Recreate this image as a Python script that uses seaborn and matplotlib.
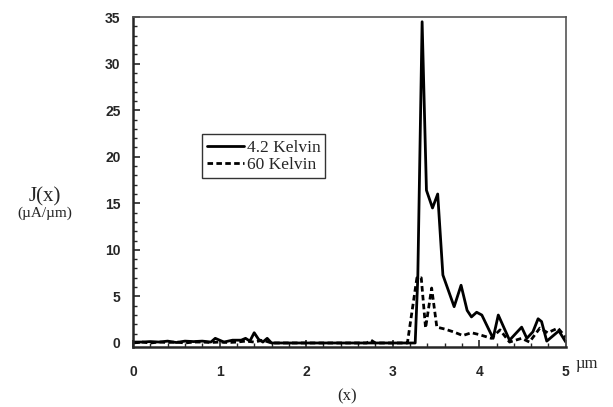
import seaborn as sns
import matplotlib.pyplot as plt
from matplotlib.ticker import MultipleLocator
import pandas as pd

# ======================================
# DATA
# ======================================

x_42 = [0.0, 0.1, 0.2, 0.3, 0.4, 0.5, 0.6, 0.7, 0.8, 0.9, 0.95, 1.0, 1.05,
        1.15, 1.25, 1.3, 1.35, 1.4, 1.45, 1.5, 1.55, 1.6, 2.0, 2.5, 3.0,
        3.26, 3.29, 3.34, 3.39, 3.46, 3.52, 3.58, 3.71, 3.79, 3.86, 3.91,
        3.97, 4.03, 4.16, 4.22, 4.35, 4.49, 4.55, 4.62, 4.68, 4.72, 4.78,
        4.92, 5.0]
j_42 = [0.1, 0.1, 0.15, 0.1, 0.2, 0.05, 0.2, 0.15, 0.2, 0.1, 0.5, 0.3, 0.1,
        0.3, 0.3, 0.5, 0.2, 1.1, 0.4, 0.1, 0.5, 0.0, 0.0, 0.0, 0.0,
        0.0, 7.0, 34.5, 16.4, 14.5, 16.0, 7.3, 3.9, 6.2, 3.5, 2.8,
        3.3, 3.0, 0.5, 3.0, 0.3, 1.7, 0.5, 1.2, 2.6, 2.3, 0.2,
        1.3, 0.1]

x_60 = [0.0, 0.1, 0.2, 0.3, 0.4, 0.5, 0.6, 0.7, 0.8, 0.9, 1.0, 1.1, 1.2,
        1.3, 1.4, 1.5, 1.6, 2.0, 2.7, 2.75, 2.8, 3.17, 3.28, 3.33, 3.38,
        3.45, 3.51, 3.6, 3.7, 3.81, 3.91, 4.0, 4.14, 4.24, 4.35, 4.49,
        4.58, 4.7, 4.79, 4.91, 5.0]
j_60 = [0.0, 0.1, 0.0, 0.1, 0.05, 0.1, 0.0, 0.1, 0.1, 0.05, 0.1, 0.05, 0.1,
        0.2, 0.1, 0.3, 0.0, 0.0, 0.0, 0.3, 0.0, 0.0, 7.0, 7.0, 1.6,
        5.9, 1.7, 1.5, 1.2, 0.8, 1.1, 0.9, 0.5, 1.4, 0.1, 0.5,
        0.1, 1.6, 1.1, 1.6, 0.6]

labels = ["4.2 Kelvin", "60 Kelvin"]

df = pd.concat([
    pd.DataFrame({"x": x_42, "J": j_42, "T": labels[0]}),
    pd.DataFrame({"x": x_60, "J": j_60, "T": labels[1]}),
])

# ======================================
# PLOT
# ======================================

sns.set_style("ticks")
plt.rcParams["font.family"] = ["Liberation Sans", "DejaVu Sans"]

fig = plt.figure(figsize=(6.13, 4.07), dpi=100)
ax = fig.add_axes([0.217, 0.147, 0.706, 0.811])

sns.lineplot(
    data=df, x="x", y="J", hue="T", style="T",
    palette=["black", "black"],
    dashes={labels[0]: "", labels[1]: (2.0, 1.2)},
    linewidth=2.0, sort=False, estimator=None, ax=ax
)

ax.set_xlim(0, 5)
ax.set_ylim(-0.45, 35)
ax.xaxis.set_major_locator(MultipleLocator(1))
ax.xaxis.set_minor_locator(MultipleLocator(0.2))
ax.yaxis.set_major_locator(MultipleLocator(5))
ax.yaxis.set_minor_locator(MultipleLocator(1))
ax.tick_params(which="both", direction="in", top=False, right=False)
ax.tick_params(which="major", length=5, width=1.2)
ax.tick_params(which="minor", length=3, width=1.0)
ax.tick_params(axis="x", pad=13)
ax.tick_params(axis="y", pad=9)
for lab in ax.get_xticklabels() + ax.get_yticklabels():
    lab.set_fontweight("bold")
    lab.set_fontsize(10)

for s in ["left", "bottom"]:
    ax.spines[s].set_linewidth(1.8)
for s in ["top", "right"]:
    ax.spines[s].set_linewidth(1.2)
    ax.spines[s].set_color("#555555")

ax.set_xlabel("")
ax.set_ylabel("")
serif = ["Liberation Serif", "DejaVu Serif"]
fig.text(0.073, 0.516, "J(x)", family=serif, fontsize=15, ha="center", va="center")
fig.text(0.073, 0.477, "(\u00b5A/\u00b5m)", family=serif, fontsize=11, ha="center", va="center")
fig.text(0.566, 0.026, "(x)", family=serif, fontsize=12, ha="center", va="center")
fig.text(0.958, 0.105, "\u00b5m", family=serif, fontsize=12, ha="center", va="center")

leg = ax.legend(
    loc="upper left", bbox_to_anchor=(0.16, 0.645), borderaxespad=0,
    prop={"family": serif, "size": 12.5},
    handlelength=2.1, handletextpad=0.15, borderpad=0.3,
    labelspacing=0.05, fancybox=False, frameon=True
)
leg.get_frame().set_edgecolor("black")
leg.get_frame().set_linewidth(1.0)

fig.savefig("out.png", dpi=100)
